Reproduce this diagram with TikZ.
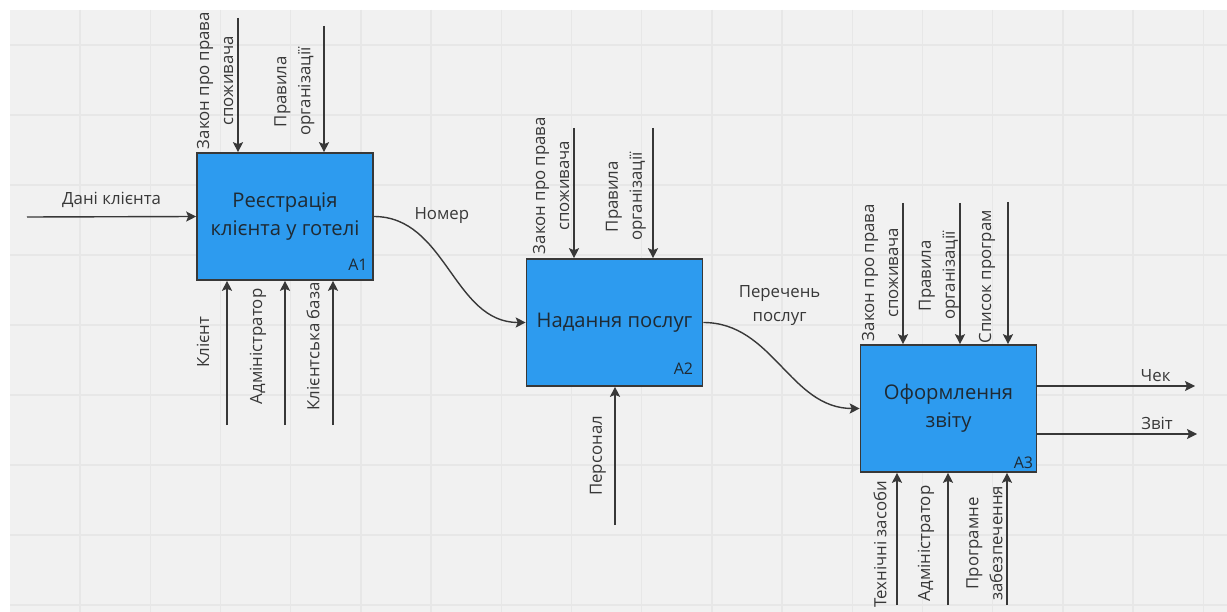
\documentclass[tikz,border=0pt]{standalone}
\usepackage{fontspec}
\setmainfont{Open Sans}
\usetikzlibrary{arrows.meta}
\definecolor{procblue}{HTML}{2D9BEF}
\definecolor{linegray}{HTML}{383838}
\definecolor{bggray}{HTML}{F1F1F1}
\definecolor{gridgray}{HTML}{E7E7E7}
\definecolor{inktext}{HTML}{1F2A33}
\tikzset{
  proc/.style={draw=linegray, line width=1.6pt, fill=procblue, minimum width=176pt,
    minimum height=127pt, align=center, text=inktext, font=\fontsize{20.2}{28}\selectfont},
  lbl/.style={font=\fontsize{16.8}{24}\selectfont, text=linegray, align=center},
  vlbl/.style={lbl, inner sep=0pt},
  num/.style={font=\fontsize{16}{18}\selectfont, text=inktext, inner sep=0pt, anchor=base east},
  flow/.style={draw=linegray, line width=1.4pt, ->},
  gridln/.style={draw=gridgray, line width=1.4pt}
}
\begin{document}
\begin{tikzpicture}[x=1pt, y=-1pt, >={Stealth[length=10pt, width=10pt, inset=2pt]}]
		\useasboundingbox (0,0) rectangle (1227,612);
		\fill[white] (0,0) rectangle (1227,612);
		\fill[bggray] (10,10) rectangle (1227,612);
		\foreach \gx in {0,...,16} \draw[gridln] ({80+70.2*\gx},10) -- ({80+70.2*\gx},612);
		\foreach \gy in {0,...,8} \draw[gridln] (10,{45+70*\gy}) -- (1227,{45+70*\gy});

		% blocks
		\node[proc] (A1) at (285,216.5) {Реєстрація\\клієнта у готелі};
		\node[proc] (A2) at (614.5,322.5) {Надання послуг};
		\node[proc] (A3) at (948.5,408.5) {Оформлення\\звіту};
		\node[num] (n1) at ([xshift=-6pt, yshift=10.5pt]A1.south east) {A1};
		\node[num] (n2) at ([xshift=-10pt, yshift=12.5pt]A2.south east) {A2};
		\node[num] (n3) at ([xshift=-4pt, yshift=4.5pt]A3.south east) {A3};

		% free ends
		\coordinate (dani) at (27,217);
		\coordinate (zak1) at (238,18);
		\coordinate (pr1) at (324,26);
		\coordinate (kl1) at (227,425);
		\coordinate (adm1) at (285,425);
		\coordinate (baza1) at (333,425);
		\coordinate (zak2) at (574,128);
		\coordinate (pr2) at (653,128);
		\coordinate (pers2) at (615,525);
		\coordinate (zak3) at (903,203);
		\coordinate (pr3) at (960,203);
		\coordinate (sp3) at (1008,202);
		\coordinate (teh3) at (897,605);
		\coordinate (adm3) at (948,605);
		\coordinate (prog3) at (1007,605);
		\coordinate (chek) at (1195,386);
		\coordinate (zvit) at (1197,434);

		% A1
		\draw[flow] (dani) to node[lbl, above=5pt] (l0) {Дані клієнта} (A1.west);
		\draw[flow] (zak1) to node[vlbl, midway, xshift=-23pt, yshift=4.5pt, rotate=90] (l1) {Закон про права\\споживача} (zak1 |- A1.north);
		\draw[flow] (pr1) to node[vlbl, midway, xshift=-29.5pt, yshift=-2.5pt, rotate=90] (l2) {Правила\\організації} (pr1 |- A1.north);
		\draw[flow] (kl1) to node[vlbl, midway, xshift=-24pt, yshift=10.5pt, rotate=90] (l3) {Клієнт} (kl1 |- A1.south);
		\draw[flow] (adm1) to node[vlbl, midway, xshift=-27pt, yshift=6.5pt, rotate=90] (l4) {Адміністратор} (adm1 |- A1.south);
		\draw[flow] (baza1) to node[vlbl, midway, xshift=-20pt, yshift=6.5pt, rotate=90] (l5) {Клієнтська база} (baza1 |- A1.south);
		\draw[flow] (A1.east) to[out=0, in=180] node[lbl, pos=.2, above right] (l6) {Номер} (A2.west);

		% A2
		\draw[flow] (zak2) to node[vlbl, midway, xshift=-23pt, yshift=7.5pt, rotate=90] (l7) {Закон про права\\споживача} (zak2 |- A2.north);
		\draw[flow] (pr2) to node[vlbl, midway, xshift=-27pt, yshift=-3.5pt, rotate=90] (l8) {Правила\\організації} (pr2 |- A2.north);
		\draw[flow] (pers2) to node[vlbl, midway, xshift=-17pt, rotate=90] (l9) {Персонал} (pers2 |- A2.south);
		\draw[flow] (A2.east) to[out=0, in=180] node[lbl, pos=.1, above right, xshift=12pt, yshift=-5pt] (l10) {Перечень\\послуг} (A3.west);

		% A3
		\draw[flow] (zak3) to node[vlbl, midway, xshift=-23pt, yshift=1pt, rotate=90] (l11) {Закон про права\\споживача} (zak3 |- A3.north);
		\draw[flow] (pr3) to node[vlbl, midway, xshift=-21pt, yshift=-2pt, rotate=90] (l12) {Правила\\організації} (pr3 |- A3.north);
		\draw[flow] (sp3) to node[vlbl, midway, xshift=-21pt, yshift=-3.5pt, rotate=90] (l13) {Список програм} (sp3 |- A3.north);
		\draw[flow] (teh3) to node[vlbl, midway, xshift=-17pt, yshift=-5.5pt, rotate=90] (l14) {Технічні засоби} (teh3 |- A3.south);
		\draw[flow] (adm3) to node[vlbl, midway, xshift=-22pt, yshift=-4.5pt, rotate=90] (l15) {Адміністратор} (adm3 |- A3.south);
		\draw[flow] (prog3) to node[vlbl, midway, xshift=-22.5pt, yshift=-4.5pt, rotate=90] (l16) {Програмне\\забезпечення} (prog3 |- A3.south);
		\draw[flow] ([yshift=22.5pt]A3.east) to node[lbl, pos=.75, above] (l17) {Чек} (chek);
		\draw[flow] ([yshift=-25.5pt]A3.east) to node[lbl, pos=.75, above] (l18) {Звіт} (zvit);
\end{tikzpicture}
\end{document}
